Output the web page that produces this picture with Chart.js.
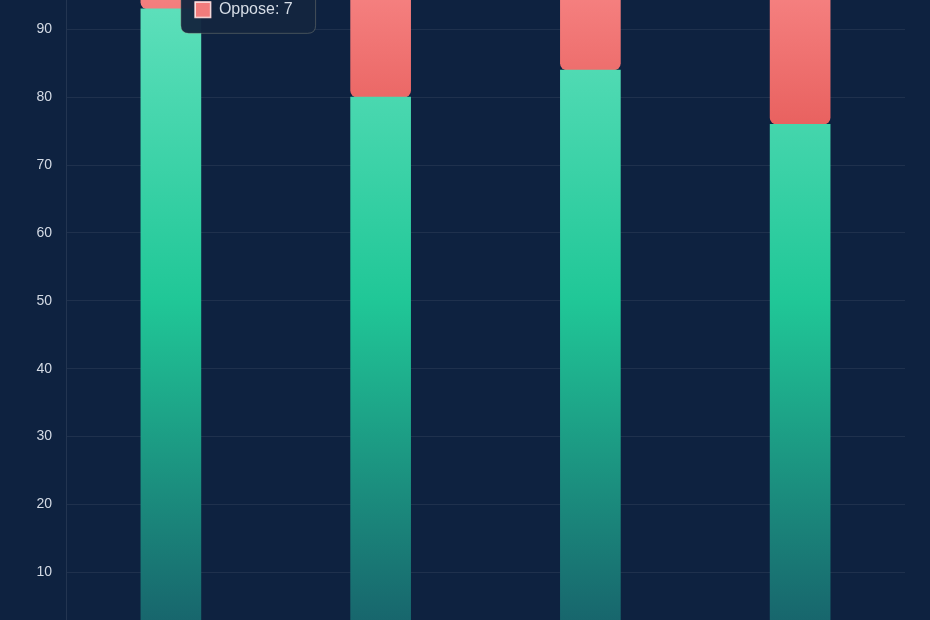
<!DOCTYPE html>
<html>
<head>
<meta charset="utf-8">
<script src="https://cdn.jsdelivr.net/npm/chart.js@4"></script>
<style>
  html, body { margin: 0; padding: 0; background: #0e2240; overflow: hidden; }
  #wrap { position: absolute; left: 0; top: -119px; width: 930px; height: 820px; }
</style>
</head>
<body>
<div id="wrap"><canvas id="barChart"></canvas></div>
<script>
const categories = ["Policy A", "Policy B", "Policy C", "Policy D"];
const supportValues = [93, 80, 84, 76];
const opposeValues = [7, 20, 16, 24];
const yTicks = [0, 10, 20, 30, 40, 50, 60, 70, 80, 90, 100];

Chart.defaults.font.family = "'Liberation Sans', Arial, sans-serif";
Chart.defaults.color = "#d3dae4";

function greenFill(ctx) {
  const area = ctx.chart.chartArea;
  if (!area) return "#20c997";
  const g = ctx.chart.ctx.createLinearGradient(0, area.top, 0, area.bottom);
  g.addColorStop(0, "#66e3c0");
  g.addColorStop(0.5, "#20c797");
  g.addColorStop(1, "#17606a");
  return g;
}

function redFill(ctx) {
  const area = ctx.chart.chartArea;
  if (!area) return "#f47e7e";
  const g = ctx.chart.ctx.createLinearGradient(0, area.top, 0, area.bottom);
  g.addColorStop(0, "#f88888");
  g.addColorStop(0.25, "#e8605e");
  g.addColorStop(1, "#b83b3b");
  return g;
}

let chartBar = null;

function initChart() {
  const canvas = document.getElementById("barChart");
  chartBar = new Chart(canvas.getContext("2d"), {
    type: "bar",
    data: {
      labels: categories,
      datasets: [{
        label: "Support",
        data: supportValues,
        backgroundColor: greenFill,
        borderWidth: 0,
        barThickness: 60,
      }, {
        label: "Oppose",
        data: opposeValues,
        backgroundColor: redFill,
        borderWidth: 0,
        borderRadius: 7,
        borderSkipped: false,
        barThickness: 60,
      }],
    },
    options: {
      responsive: true,
      maintainAspectRatio: false,
      animation: false,
      layout: { padding: { top: 80.4, right: 25, bottom: 20.85, left: 0 } },
      interaction: { mode: "index", intersect: false },
      plugins: {
        legend: { display: false },
        tooltip: {
          backgroundColor: "rgba(20, 37, 64, 0.96)",
          borderColor: "rgba(170, 165, 140, 0.35)",
          borderWidth: 1,
          cornerRadius: 8,
          padding: 14,
          caretSize: 6,
          caretPadding: 4,
          titleColor: "#e2e8f0",
          bodyColor: "#d6dde6",
          titleFont: { size: 15, weight: "bold" },
          bodyFont: { size: 16 },
          titleMarginBottom: 8,
          bodySpacing: 4,
          boxWidth: 16,
          boxHeight: 16,
          boxPadding: 6,
          callbacks: {
            labelColor: (item) => ({
              borderColor: item.datasetIndex === 0 ? "#b5f0df" : "#fbd0d0",
              backgroundColor: item.datasetIndex === 0 ? "#3fd3a8" : "#f27c7c",
              borderWidth: 1,
            }),
          },
        },
      },
      scales: {
        x: {
          stacked: true,
          grid: { display: false },
          border: { display: false },
          ticks: { font: { size: 14 } },
          afterFit: (scale) => { scale.height = 40; },
        },
        y: {
          stacked: true,
          min: 0,
          max: 100,
          afterBuildTicks: (scale) => { scale.ticks = yTicks.map(v => ({ value: v })); },
          grid: { color: "rgba(255, 255, 255, 0.07)", drawTicks: false },
          border: { color: "rgba(255, 255, 255, 0.09)" },
          ticks: { padding: 14, font: { size: 14 }, color: "#d3dae4" },
          afterFit: (scale) => { scale.width = 66; },
        },
      },
    },
  });

  const active = [{ datasetIndex: 0, index: 0 }, { datasetIndex: 1, index: 0 }];
  chartBar.setActiveElements(active);
  chartBar.tooltip.setActiveElements(active, { x: 171, y: 100 });
  chartBar.update();
}

document.addEventListener("DOMContentLoaded", initChart);
</script>
</body>
</html>
